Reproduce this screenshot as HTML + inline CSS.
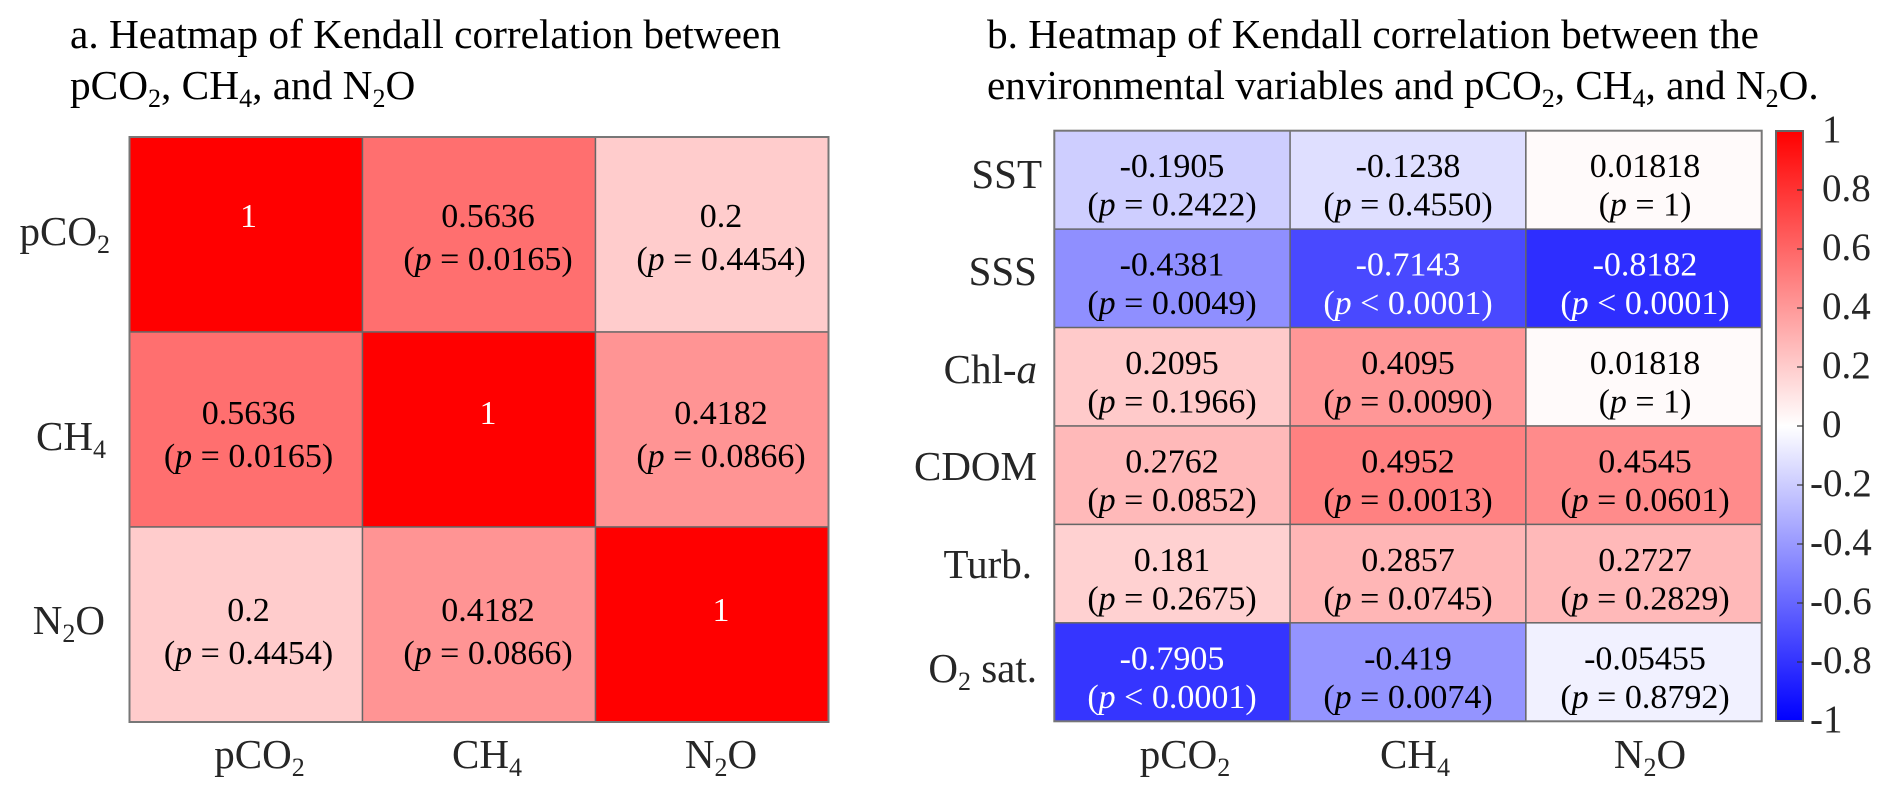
<!DOCTYPE html>
<html lang="en">
<head>
<meta charset="utf-8">
<title>Heatmaps of Kendall correlation</title>
<style>
html,body{margin:0;padding:0;background:#fff;width:1892px;height:796px;overflow:hidden}
svg{display:block;font-family:"Liberation Serif","DejaVu Serif",serif}
</style>
</head>
<body>
<svg id="fig" xmlns="http://www.w3.org/2000/svg" width="1892" height="796" viewBox="0 0 1892 796">
  <rect x="0" y="0" width="1892" height="796" fill="#fff"/>
  <text x="70" y="48" font-size="41.3" fill="#000">a. Heatmap of Kendall correlation between</text>
  <text x="70" y="99" font-size="41.3" fill="#000">pCO<tspan font-size="26" dy="8">2</tspan><tspan dy="-8">, CH</tspan><tspan font-size="26" dy="8">4</tspan><tspan dy="-8">, and N</tspan><tspan font-size="26" dy="8">2</tspan><tspan dy="-8">O</tspan></text>
  <text x="987" y="48" font-size="41.2" fill="#000">b. Heatmap of Kendall correlation between the</text>
  <text x="987" y="99" font-size="41.2" fill="#000">environmental variables and pCO<tspan font-size="26" dy="8">2</tspan><tspan dy="-8">, CH</tspan><tspan font-size="26" dy="8">4</tspan><tspan dy="-8">, and N</tspan><tspan font-size="26" dy="8">2</tspan><tspan dy="-8">O.</tspan></text>
  <defs>
    <linearGradient id="cbGrad" x1="0" y1="0" x2="0" y2="1"></linearGradient>
  </defs>
  <g id="panelA"></g>
  <g id="panelB"></g>
  <g id="colorbar"></g>
</svg>
<script>
// ---- Panel a data ----
const aRows = ["pCO_2", "CH_4", "N_2O"];
const aCols = ["pCO_2", "CH_4", "N_2O"];
const aValues = [
  [1, 0.5636, 0.2],
  [0.5636, 1, 0.4182],
  [0.2, 0.4182, 1]
];
const aPLabels = [
  ["", "= 0.0165", "= 0.4454"],
  ["= 0.0165", "", "= 0.0866"],
  ["= 0.4454", "= 0.0866", ""]
];
// ---- Panel b data ----
const bRows = ["SST", "SSS", "Chl-*a*", "CDOM", "Turb.", "O_2 sat."];
const bCols = ["pCO_2", "CH_4", "N_2O"];
const bValues = [
  [-0.1905, -0.1238, 0.01818],
  [-0.4381, -0.7143, -0.8182],
  [0.2095, 0.4095, 0.01818],
  [0.2762, 0.4952, 0.4545],
  [0.181, 0.2857, 0.2727],
  [-0.7905, -0.419, -0.05455]
];
const bPLabels = [
  ["= 0.2422", "= 0.4550", "= 1"],
  ["= 0.0049", "< 0.0001", "< 0.0001"],
  ["= 0.1966", "= 0.0090", "= 1"],
  ["= 0.0852", "= 0.0013", "= 0.0601"],
  ["= 0.2675", "= 0.0745", "= 0.2829"],
  ["< 0.0001", "= 0.0074", "= 0.8792"]
];
// ---- Colorbar data ----
const cbTicks = [1, 0.8, 0.6, 0.4, 0.2, 0, -0.2, -0.4, -0.6, -0.8, -1];
const cbTickLabels = ["1", "0.8", "0.6", "0.4", "0.2", "0", "-0.2", "-0.4", "-0.6", "-0.8", "-1"];

const NS = "http://www.w3.org/2000/svg";
function mk(tag, attrs, parent) {
  const e = document.createElementNS(NS, tag);
  for (const k in attrs) e.setAttribute(k, attrs[k]);
  if (parent) parent.appendChild(e);
  return e;
}
function color(v) {
  const t = Math.max(-1, Math.min(1, v));
  const c = Math.round(255 * (1 - Math.abs(t)));
  return t >= 0 ? "rgb(255," + c + "," + c + ")" : "rgb(" + c + "," + c + ",255)";
}
function rich(textEl, label, size) {
  const parts = label.split(/(_\d|\*[^*]+\*)/).filter(Boolean);
  let pending = 0;
  parts.forEach(function (p) {
    const t = mk("tspan", {}, textEl);
    if (p[0] === "_") {
      t.textContent = p.slice(1);
      t.setAttribute("font-size", Math.round(size * 0.63));
      t.setAttribute("dy", 8);
      pending = -8;
    } else {
      if (pending) t.setAttribute("dy", pending);
      pending = 0;
      if (p[0] === "*") {
        t.textContent = p.slice(1, -1);
        t.setAttribute("font-style", "italic");
      } else {
        t.textContent = p;
      }
    }
  });
}
function cellText(g, cx, y1, y2, value, pLabel, size) {
  const fill = Math.abs(value) > 0.6 ? "#fff" : "#000";
  const t1 = mk("text", {x: cx, y: y1, "text-anchor": "middle", "font-size": size, fill: fill}, g);
  
  
  t1.textContent = String(value);
  if (pLabel) {
    const t2 = mk("text", {x: cx, y: y2, "text-anchor": "middle", "font-size": size, fill: fill}, g);
    
    
    t2.appendChild(document.createTextNode("("));
    const it = mk("tspan", {"font-style": "italic"}, t2);
    it.textContent = "p";
    t2.appendChild(document.createTextNode(" " + pLabel + ")"));
  }
}
function heatmap(g, o) {
  const cw = o.w / o.cols.length, rh = o.h / o.rows.length;
  const xScale = function (c) { return o.x + c * cw; };
  const yScale = function (r) { return o.y + r * rh; };
  o.values.forEach(function (row, r) {
    row.forEach(function (v, c) {
      const rect = mk("rect", {x: xScale(c), y: yScale(r), width: cw, height: rh, fill: color(v), stroke: "#666", "stroke-width": 1.4}, g);
      
      
    });
  });
  const frame = mk("rect", {x: o.x, y: o.y, width: o.w, height: o.h, fill: "none", stroke: "#777", "stroke-width": 2}, g);
  
  
  o.values.forEach(function (row, r) {
    row.forEach(function (v, c) {
      const y1 = o.textY0 + r * o.textYStep;
      cellText(g, o.textX[c], y1, y1 + o.lineGap, v, o.p[r][c], 34);
    });
  });
  o.rows.forEach(function (lab, r) {
    const t = mk("text", {x: o.rowEnd[r], y: o.rowBase[r], "text-anchor": "end", "font-size": 41, fill: "#262626"}, g);
    
    
    rich(t, lab, 41);
  });
  o.cols.forEach(function (lab, c) {
    const t = mk("text", {x: o.colX[c], y: 768, "text-anchor": "middle", "font-size": 41, fill: "#262626"}, g);
    
    
    rich(t, lab, 41);
  });
}
heatmap(document.getElementById("panelA"), {
  rows: aRows, cols: aCols, values: aValues, p: aPLabels,
  x: 129.5, y: 137, w: 699, h: 585,
  textX: [248.5, 488, 721], textY0: 227, textYStep: 197, lineGap: 43,
  rowEnd: [110, 106, 105], rowBase: [245, 450, 634],
  colX: [259.5, 487, 721]
});
heatmap(document.getElementById("panelB"), {
  rows: bRows, cols: bCols, values: bValues, p: bPLabels,
  x: 1054.3, y: 130.7, w: 707.4, h: 590.6,
  textX: [1172, 1408, 1645], textY0: 177, textYStep: 98.5, lineGap: 38.5,
  rowEnd: [1042, 1037, 1037, 1037, 1032, 1037], rowBase: [188, 285, 383, 480, 578, 682],
  colX: [1185, 1415, 1650]
});
// Colorbar
(function () {
  const g = document.getElementById("colorbar");
  const grad = document.getElementById("cbGrad");
  [1, 0, -1].forEach(function (v) {
    mk("stop", {offset: ((1 - v) / 2 * 100) + "%", "stop-color": color(v)}, grad);
  });
  const x = 1776, w = 27, top = 131, bottom = 721;
  const yScale = function (v) { return top + (1 - v) / 2 * (bottom - top); };
  const bar = mk("rect", {x: x, y: top, width: w, height: bottom - top, fill: "url(#cbGrad)", stroke: "#666", "stroke-width": 2}, g);
  
  
  cbTicks.forEach(function (v, i) {
    const y = yScale(v);
    if (v !== 1 && v !== -1) {
      const tick = mk("line", {x1: x + w - 6, x2: x + w, y1: y, y2: y, stroke: "#333", "stroke-width": 1.2}, g);
      
      
    }
    const neg = cbTickLabels[i][0] === "-";
    const t = mk("text", {x: neg ? 1810 : 1822, y: y + 11, "font-size": 39, fill: "#262626"}, g);
    
    
    t.textContent = cbTickLabels[i];
  });
})();
</script>
</body>
</html>
